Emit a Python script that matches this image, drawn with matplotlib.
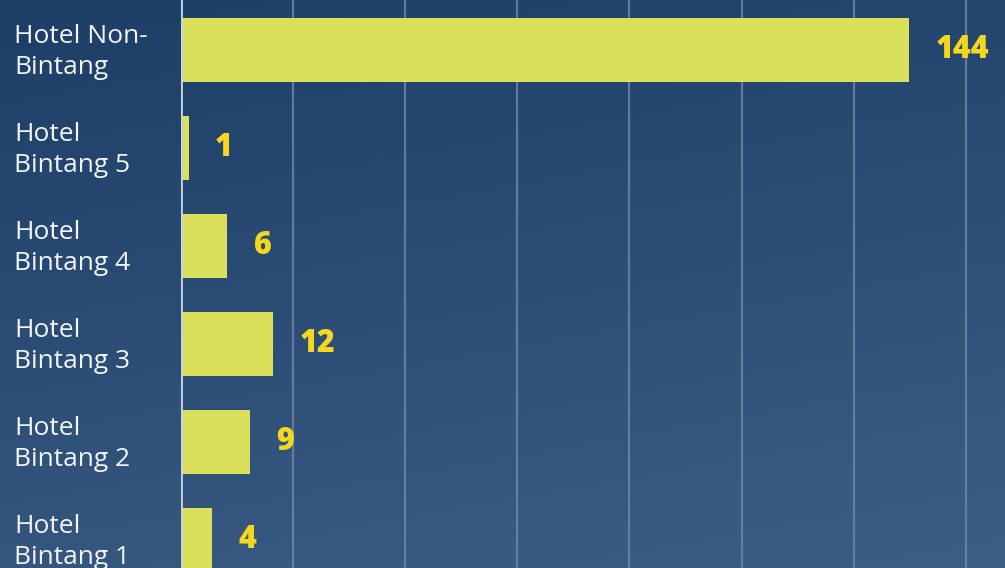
import numpy as np
import matplotlib
matplotlib.use("Agg")
import matplotlib.pyplot as plt
from matplotlib.colors import LinearSegmentedColormap
from matplotlib.transforms import ScaledTranslation

# data
categories = ["Hotel Non-\nBintang", "Hotel\nBintang 5", "Hotel\nBintang 4",
              "Hotel\nBintang 3", "Hotel\nBintang 2", "Hotel\nBintang 1"]
values = [144, 1, 6, 12, 9, 4]

bar_color = "#dbe05a"
value_color = "#f6d71f"
label_color = "#f2f5f8"

# the long bar is drawn compressed in the original, so the x axis is
# linear up to SPLIT and squeezed above it
SPLIT = 15.0
RATIO = 0.618


def fwd(x):
    x = np.asarray(x, dtype=float)
    return np.where(x <= SPLIT, x, SPLIT + (x - SPLIT) * RATIO)


def inv(y):
    y = np.asarray(y, dtype=float)
    return np.where(y <= SPLIT, y, SPLIT + (y - SPLIT) / RATIO)


W, H = 1005, 568
fig = plt.figure(figsize=(W / 100, H / 100), dpi=100)

# background gradient
bg = fig.add_axes([0, 0, 1, 1], zorder=0)
yy, xx = np.mgrid[0:1:200j, 0:1:200j]
grad = 0.8 * yy + 0.25 * xx
cmap = LinearSegmentedColormap.from_list("bg", ["#1d3e66", "#2c4d76", "#3d5e84"])
bg.imshow(grad, cmap=cmap, aspect="auto", extent=[0, 1, 1, 0], vmin=0, vmax=1.05)
bg.axis("off")

ax = fig.add_axes([181 / W, 0, 1 - 181 / W, 1], zorder=1)
ax.patch.set_alpha(0)
ax.set_xscale("function", functions=(fwd, inv))

ypos = np.arange(len(categories))
ax.barh(ypos, values, height=0.653, color=bar_color, zorder=3)

px_per_unit = 7.69
right = float(inv((W - 181) / px_per_unit))
ax.set_xlim(0, right)
ax.set_ylim(5.286, -0.51)

grid_ticks = inv(np.arange(1, 8) * 112.1 / px_per_unit)
ax.set_xticks(grid_ticks)
ax.tick_params(axis="x", length=0, labelbottom=False)
ax.grid(axis="x", color="#6f88aa", linewidth=1.6, alpha=0.8, zorder=1)
ax.axvline(0, color="#c9d4e2", linewidth=2, zorder=4)

ax.set_yticks(ypos)
ax.set_yticklabels(categories, fontsize=19, color=label_color,
                   family=["Open Sans", "DejaVu Sans"], ha="left",
                   linespacing=1.3)
ax.tick_params(axis="y", length=0, pad=(181 - 14) * 0.72)
shift = ScaledTranslation(0, 4 / 100, fig.dpi_scale_trans)
for lab in ax.get_yticklabels():
    lab.set_transform(lab.get_transform() + shift)

for y, v in zip(ypos, values):
    ax.annotate(str(v), xy=(v, y), xytext=(19, 0), textcoords="offset points",
                ha="left", va="center", fontsize=22, fontweight="heavy",
                color=value_color, family=["Open Sans", "DejaVu Sans"], zorder=5)

for s in ax.spines.values():
    s.set_visible(False)

fig.savefig("out.png", dpi=100)
